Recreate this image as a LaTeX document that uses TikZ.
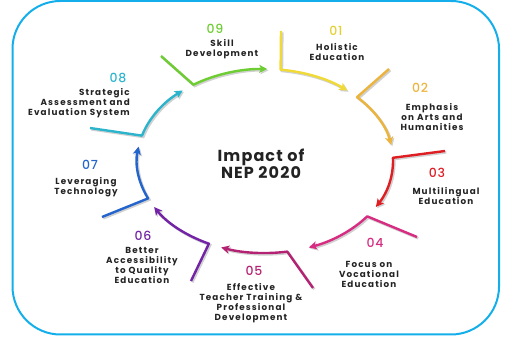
\documentclass[tikz,border=0pt]{standalone}
\usepackage{fontspec}
\setmainfont{Poppins}[LetterSpace=6]
\newfontfamily\numfont{Poppins}[UprightFont=* Medium, LetterSpace=6]
\usetikzlibrary{arrows.meta,calc}
\definecolor{c1}{RGB}{240,218,55}
\definecolor{c1t}{RGB}{228,208,50}
\definecolor{c2}{RGB}{236,180,60}
\definecolor{c3}{RGB}{222,30,35}
\definecolor{c4}{RGB}{214,45,130}
\definecolor{c5}{RGB}{180,35,115}
\definecolor{c6}{RGB}{115,35,165}
\definecolor{c7}{RGB}{35,100,205}
\definecolor{c8}{RGB}{45,180,205}
\definecolor{c9}{RGB}{110,205,50}
\definecolor{frame}{RGB}{20,175,235}
\definecolor{ink}{RGB}{35,35,35}
\tikzset{
  seg/.style={draw=#1, line width=2.4pt, line join=round,
    -{Stealth[length=8pt,width=8pt,inset=2pt]},
    preaction={draw=black!18, line width=2.6pt, transform canvas={shift={(1.3pt,-1.3pt)}}}},
  num/.style={text=#1, font=\numfont\fontsize{12.5}{13}\selectfont, inner sep=0pt},
  lbl/.style={text=ink, align=center, font=\fontsize{8.8}{10}\selectfont\bfseries\addfontfeatures{LetterSpace=13}, inner sep=0pt},
  title/.style={text=ink, align=center, font=\fontsize{16}{17}\selectfont\bfseries\addfontfeatures{LetterSpace=7}, inner sep=0pt}
}
\begin{document}
\begin{tikzpicture}[x=1pt,y=1pt]
\useasboundingbox (0,0) rectangle (514,342);
\draw[frame, line width=2pt, rounded corners=48pt] (12.5,7.5) rectangle (499,341);
\coordinate (C) at (265,181);
% tails
\coordinate (t1) at (281,311);
\coordinate (t2) at (389,273);
\coordinate (t3) at (445,191);
\coordinate (t4) at (417,105);
\coordinate (t5) at (313,54);
\coordinate (t6) at (191,61);
\coordinate (t7) at (102,125);
\coordinate (t8) at (90,214);
\coordinate (t9) at (161,286);
% arc starts
\coordinate (s1) at ($(C)+(83:128pt and 92pt)$);
\coordinate (s2) at ($(C)+(44:128pt and 92pt)$);
\coordinate (s3) at ($(C)+(2:128pt and 92pt)$);
\coordinate (s4) at ($(C)+(-37:128pt and 92pt)$);
\coordinate (s5) at ($(C)+(-80:128pt and 92pt)$);
\coordinate (s6) at ($(C)+(-116:128pt and 92pt)$);
\coordinate (s7) at ($(C)+(204:128pt and 92pt)$);
\coordinate (s8) at ($(C)+(164:128pt and 92pt)$);
\coordinate (s9) at ($(C)+(124:128pt and 92pt)$);
\draw[seg=c1] (t1) -- (s1) arc[start angle=83, end angle=50, x radius=128pt, y radius=92pt];
\draw[seg=c2] (t2) -- (s2) arc[start angle=44, end angle=10, x radius=128pt, y radius=92pt];
\draw[seg=c3] (t3) -- (s3) arc[start angle=2, end angle=-30, x radius=128pt, y radius=92pt];
\draw[seg=c4] (t4) -- (s4) arc[start angle=-37, end angle=-70, x radius=128pt, y radius=92pt];
\draw[seg=c5] (t5) -- (s5) arc[start angle=-80, end angle=-110, x radius=128pt, y radius=92pt];
\draw[seg=c6] (t6) -- (s6) arc[start angle=-116, end angle=-150, x radius=128pt, y radius=92pt];
\draw[seg=c7] (t7) -- (s7) arc[start angle=204, end angle=171, x radius=128pt, y radius=92pt];
\draw[seg=c8] (t8) -- (s8) arc[start angle=164, end angle=130, x radius=128pt, y radius=92pt];
\draw[seg=c9] (t9) -- (s9) arc[start angle=124, end angle=89, x radius=128pt, y radius=92pt];
% title
\node[title] (T) at (261,178.5) {Impact of\\NEP 2020};
% numbers and labels
\node[num=c9] (n9) at (215,313) {09};
\node[lbl] (l9) at (222,293) {Skill\\Development};
\node[num=c1t] (n1) at (336,311) {01};
\node[lbl] (l1) at (337,290) {Holistic\\Education};
\node[num=c2] (n2) at (420,254) {02};
\node[lbl] (l2) at (432,225) {Emphasis\\on Arts and\\Humanities};
\node[num=c3] (n3) at (437,169) {03};
\node[lbl] (l3) at (446,146) {Multilingual\\Education};
\node[num=c4] (n4) at (375,99) {04};
\node[lbl] (l4) at (369,68) {Focus on\\Vocational\\Education};
\node[num=c5] (n5) at (254,71) {05};
\node[lbl] (l5) at (251,38.5) {Effective\\Teacher Training \&\\Professional\\Development};
\node[num=c6] (n6) at (143,106) {06};
\node[lbl] (l6) at (142,76.5) {Better\\Accessibility\\to Quality\\Education};
\node[num=c7] (n7) at (90,177) {07};
\node[lbl] (l7) at (86,155) {Leveraging\\Technology};
\node[num=c8] (n8) at (118,264) {08};
\node[lbl, align=right, anchor=east] (l8) at (130,239) {Strategic\\Assessment and\\Evaluation System};
\end{tikzpicture}
\end{document}
